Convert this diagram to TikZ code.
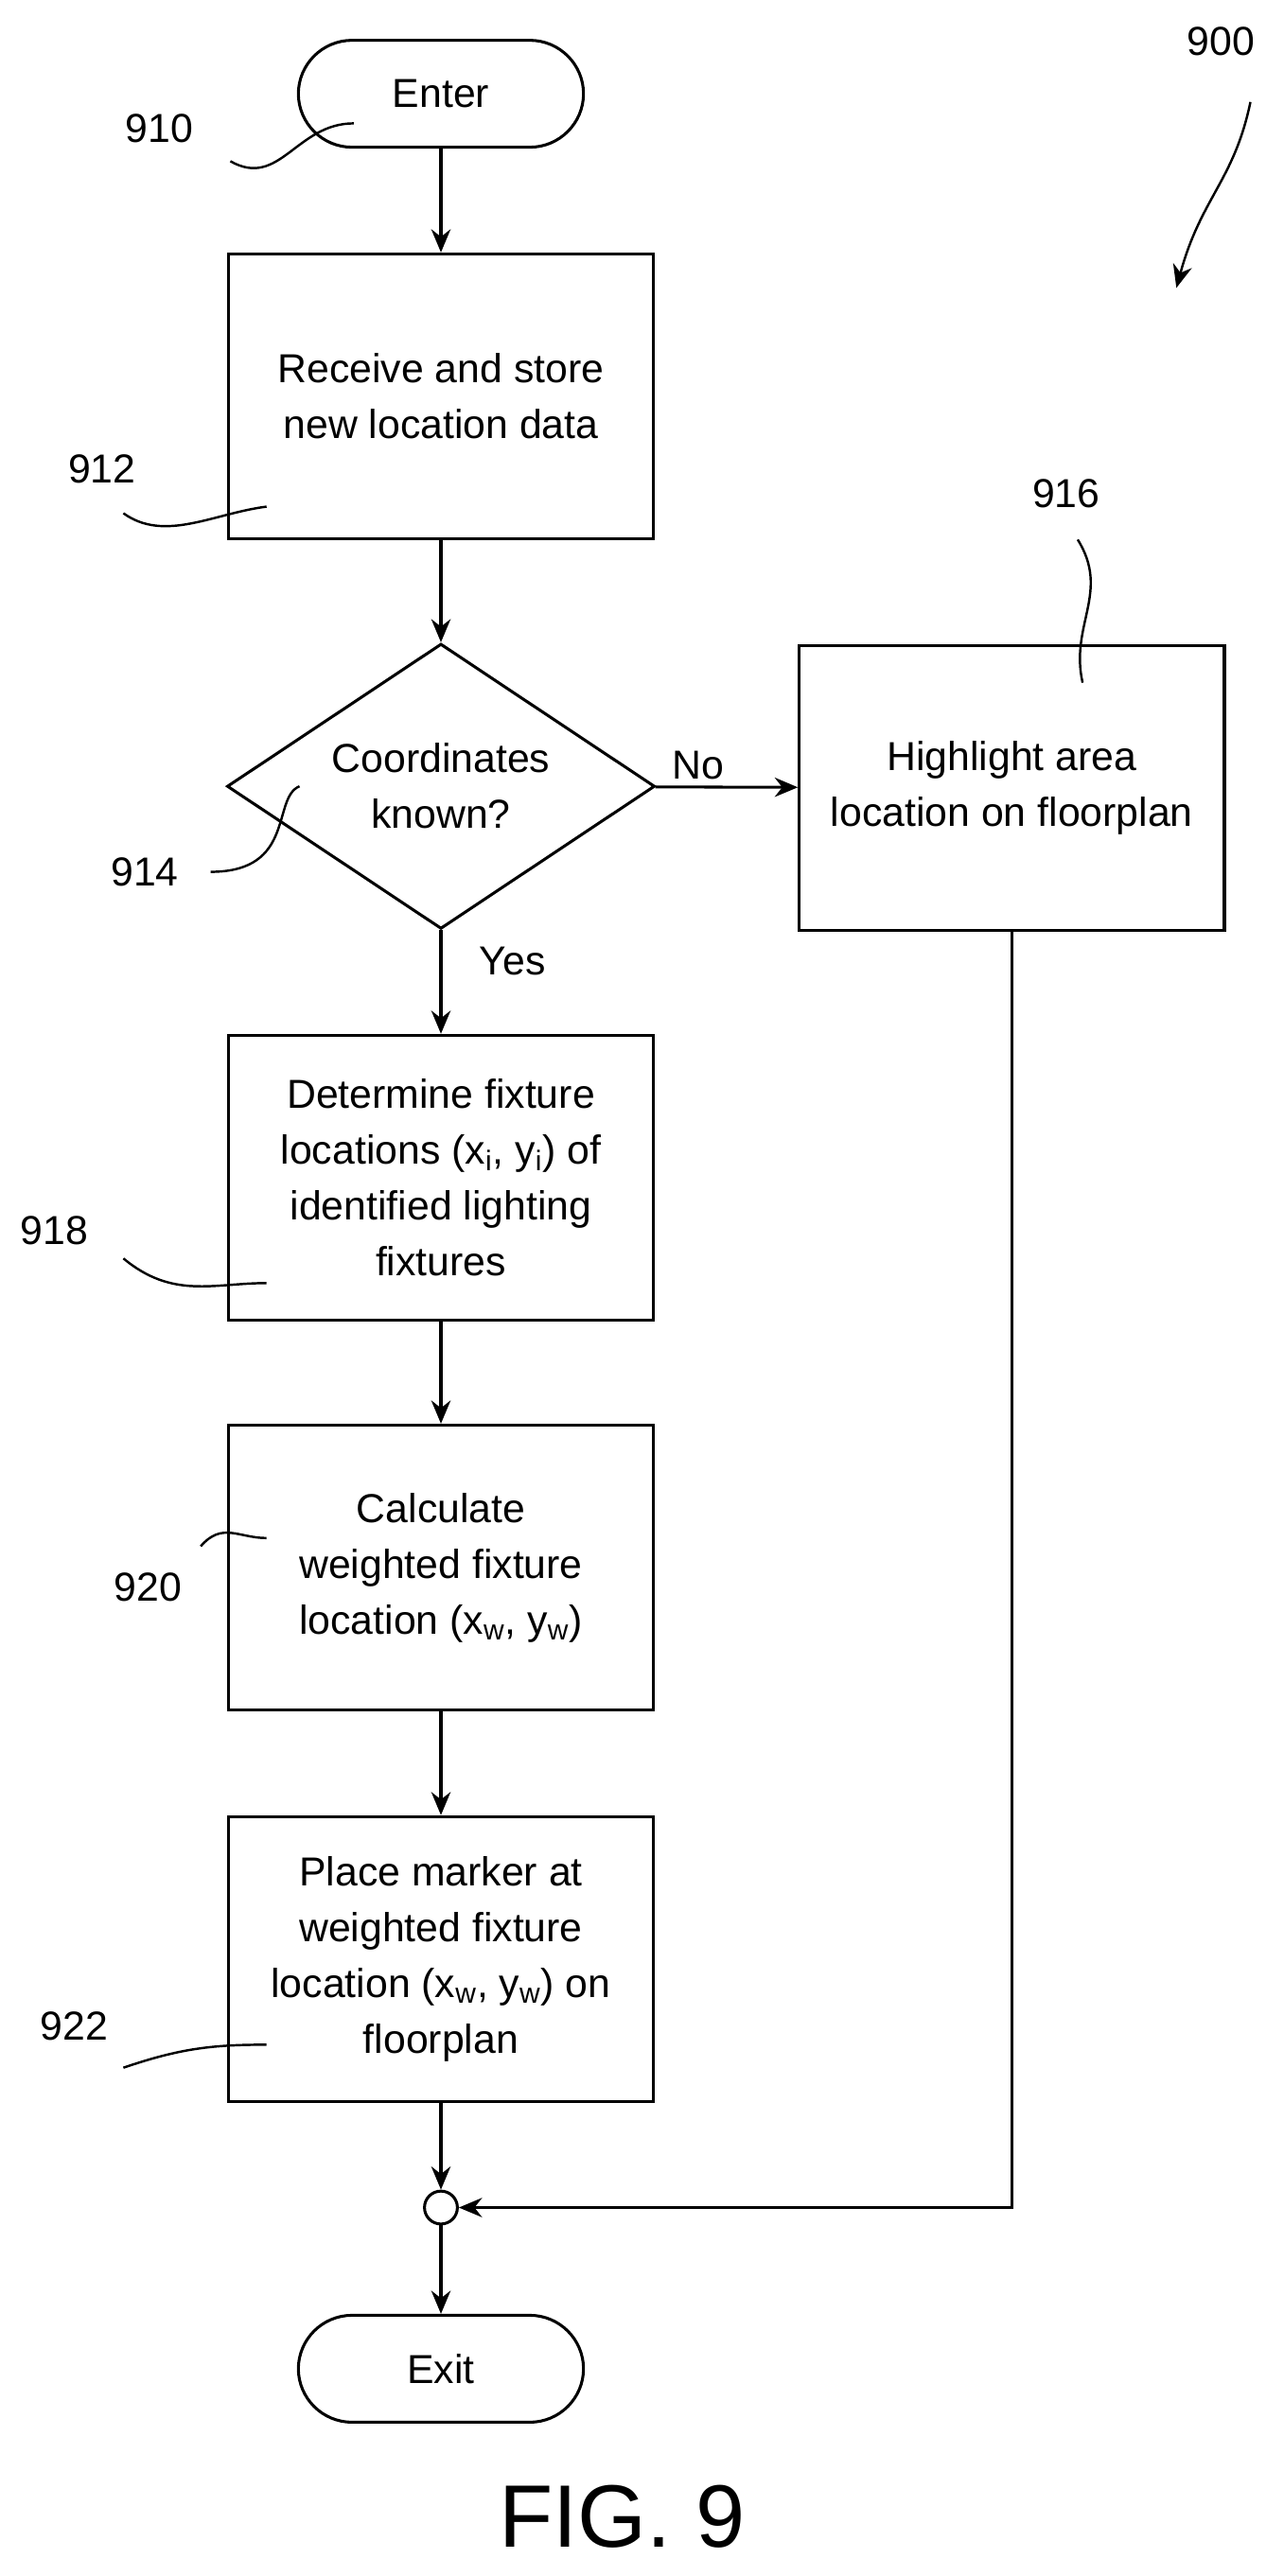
\documentclass[tikz,border=0pt]{standalone}
\usepackage{fontspec}
\setmainfont{Liberation Sans}
\usetikzlibrary{arrows.meta,shapes.geometric}
\tikzset{
  base/.style = {draw, line width=1.5pt, align=center, font=\fontsize{21}{29}\selectfont},
  box/.style = {base, minimum width=7.75cm, minimum height=5.2cm, inner sep=2pt},
  term/.style = {base, rounded corners=0.98cm, minimum width=5.2cm, minimum height=1.95cm},
  test/.style = {base, diamond, aspect=1.5, minimum width=7.8cm, minimum height=5.2cm, inner sep=0pt},
  tag/.style = {font=\fontsize{21}{25}\selectfont},
  lead/.style = {line width=1.2pt},
  flow/.style = {line width=1.5pt, -{Stealth[length=12pt,width=10pt]}}
}
\begin{document}
\begin{tikzpicture}[x=0.03cm,y=-0.03cm]
  \useasboundingbox (0,0) rectangle (780,1566);
  % main column
  \node [term] (enter) at (268,57) {Enter};
  \node [box] (receive) at (268,241) {Receive and store\\new location data};
  \node [test] (known) at (268,478) {Coordinates\\known?};
  \node [box] (highlight) at (615,479) {Highlight area\\location on floorplan};
  \node [box] (fixtures) at (268,716) {Determine fixture\\locations (x\textsubscript{i}, y\textsubscript{i}) of\\identified lighting\\fixtures};
  \node [box] (calc) at (268,953) {Calculate\\weighted fixture\\location (x\textsubscript{w}, y\textsubscript{w})};
  \node [box] (marker) at (268,1191) {Place marker at\\weighted fixture\\location (x\textsubscript{w}, y\textsubscript{w}) on\\floorplan};
  \node [draw, circle, line width=1.5pt, minimum size=0.6cm, inner sep=0pt] (join) at (268,1342) {};
  \node [term] (exit) at (268,1440) {Exit};
  % connectors
  \draw [flow] (enter) -- (receive);
  \draw [flow] (receive) -- (known);
  \draw [flow] (known) -- node [tag, above, pos=0.3] {No} (highlight);
  \draw [flow] (known) -- node [tag, right, pos=0.3, xshift=16pt] {Yes} (fixtures);
  \draw [flow] (fixtures) -- (calc);
  \draw [flow] (calc) -- (marker);
  \draw [flow] (marker) -- (join);
  \draw [flow] (highlight.south) |- (join);
  \draw [flow] (join) -- (exit);
  % reference numerals
  \node [tag] (n900) at (742,25) {900};
  \node [tag] (n910) at (97,78) {910};
  \node [tag] (n912) at (62,285) {912};
  \node [tag] (n914) at (88,530) {914};
  \node [tag] (n916) at (648,300) {916};
  \node [tag] (n918) at (33,748) {918};
  \node [tag] (n920) at (90,965) {920};
  \node [tag] (n922) at (45,1232) {922};
  \draw [flow, line width=1.2pt] (760,62) .. controls (750,110) and (730,120) .. (715,175);
  \draw [lead] (140,98) .. controls (170,115) and (180,75) .. (215,75);
  \draw [lead] (75,312) .. controls (100,330) and (130,312) .. (162,308);
  \draw [lead] (128,530) .. controls (180,530) and (165,485) .. (182,478);
  \draw [lead] (655,328) .. controls (675,360) and (650,380) .. (658,415);
  \draw [lead] (75,765) .. controls (105,790) and (130,780) .. (162,780);
  \draw [lead] (122,940) .. controls (135,925) and (145,935) .. (162,935);
  \draw [lead] (75,1257) .. controls (110,1245) and (130,1243) .. (162,1243);
  \node [font=\fontsize{46}{50}\selectfont] (fig) at (378,1530) {FIG. 9};
\end{tikzpicture}
\end{document}
